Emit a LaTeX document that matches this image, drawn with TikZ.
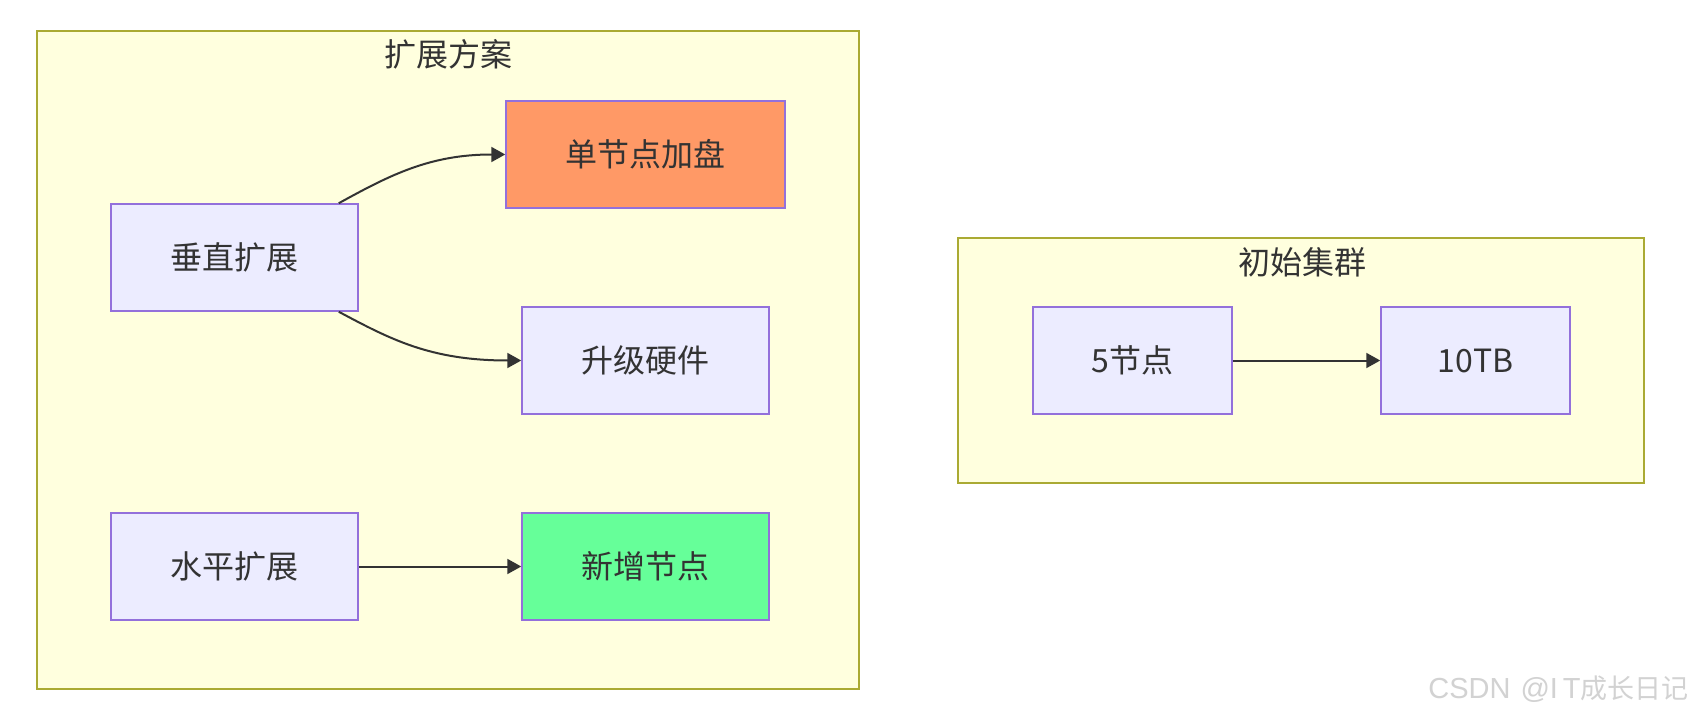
\documentclass[tikz,border=0pt]{standalone}
\usepackage{fontspec}
\setmainfont{Noto Sans CJK SC}
\newfontfamily\wmlatin{Liberation Sans}
\usetikzlibrary{arrows.meta,calc}
\definecolor{clfill}{HTML}{FFFFDE}
\definecolor{cldraw}{HTML}{AAAA33}
\definecolor{ndfill}{HTML}{ECECFF}
\definecolor{nddraw}{HTML}{9370DB}
\definecolor{orangefill}{HTML}{FF9966}
\definecolor{greenfill}{HTML}{66FF99}
\definecolor{txt}{HTML}{333333}
\definecolor{wm}{HTML}{D2D2D2}
\tikzset{
  cluster/.style={draw=cldraw, fill=clfill, line width=0.75pt, rectangle, inner sep=0pt},
  box/.style={draw=nddraw, fill=ndfill, line width=0.75pt, rectangle, inner sep=0pt,
    minimum width=123.5pt, minimum height=53.5pt, text=txt, font=\fontsize{16pt}{19pt}\selectfont},
  ctitle/.style={text=txt, font=\fontsize{16pt}{19pt}\selectfont, inner sep=0pt},
  edge/.style={draw=txt, line width=1pt, -{Triangle[length=7pt,width=7.5pt]}},
}
\begin{document}
\begin{tikzpicture}[x=0.5pt,y=-0.5pt]
\fill[white] (0,0) rectangle (1694,722);
\useasboundingbox (0,0) rectangle (1694,722);
% clusters
\node[cluster, minimum width=411pt, minimum height=329pt] (c1) at (448,360) {};
\node[cluster, minimum width=343pt, minimum height=122.5pt] (c2) at (1301,360.5) {};
\node[ctitle] (t1) at (448,54) {扩展方案};
\node[ctitle] (t2) at (1302,262) {初始集群};
% nodes
\node[box] (v) at (234.5,257.5) {垂直扩展};
\node[box, fill=orangefill, minimum width=139.5pt] (d) at (645.5,154.5) {单节点加盘};
\node[box] (u) at (645.5,360.5) {升级硬件};
\node[box] (h) at (234.5,566.5) {水平扩展};
\node[box, fill=greenfill] (n) at (645.5,566.5) {新增节点};
\node[box, minimum width=99.5pt] (a) at (1132.5,360.5) {5节点};
\node[box, minimum width=94.5pt] (b) at (1475.5,360.5) {10TB};
% edges
\coordinate (vs1) at ($(v.north east)+(-20,0)$);
\coordinate (vs2) at ($(v.south east)+(-20,0)$);
\draw[edge] (vs1) .. controls (390,175) and (430,154.5) .. (d.west);
\draw[edge] (vs2) .. controls (390,339) and (430,360.5) .. (u.west);
\draw[edge] (h.east) -- (n.west);
\draw[edge] (a.east) -- (b.west);
% watermark
\node[anchor=east, text=wm, inner sep=0pt, font=\fontsize{13.5pt}{15pt}\selectfont] (wmk) at (1689,689) {{\wmlatin\fontsize{14.5pt}{15pt}\selectfont CSDN\hspace{5pt}@I\,T}成长日记};
\end{tikzpicture}
\end{document}
